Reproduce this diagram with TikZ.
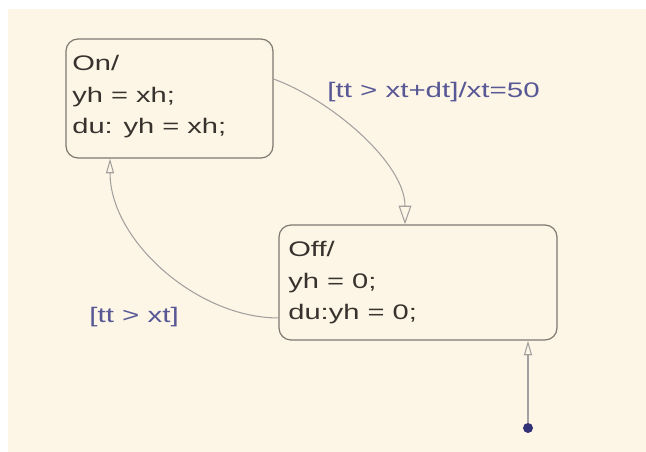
\documentclass[tikz,border=0pt]{standalone}
\usepackage{fontspec}
\setmainfont{Liberation Sans}
\usetikzlibrary{arrows.meta}
\definecolor{sfcream}{RGB}{253,246,230}
\definecolor{sfedge}{RGB}{125,120,112}
\definecolor{sfwire}{RGB}{165,160,160}
\definecolor{sfguard}{RGB}{88,88,150}
\definecolor{sfdot}{RGB}{50,50,120}
\definecolor{sfink}{RGB}{55,50,45}

\begin{document}
\begin{tikzpicture}[x=0.75pt, y=0.75pt,
  st/.style={draw=sfedge, line width=0.9pt, rounded corners=9pt, fill=sfcream, inner sep=0pt},
  stxt/.style={font=\fontsize{15.8}{23.8}\selectfont, text=sfink, align=left,
               anchor=north west, inner sep=0pt, xscale=1.38},
  guard/.style={font=\fontsize{15.8}{18}\selectfont, text=sfguard, anchor=base west,
                inner sep=0pt, xscale=1.4},
  tr/.style={draw=sfwire, line width=0.8pt, -{Triangle[open, length=11pt, width=6pt]}},
  trbig/.style={tr, -{Triangle[open, length=14pt, width=9.5pt]}}]
\fill[white] (0,0) rectangle (646,452);
\fill[sfcream] (8,0) rectangle (646,443);
% states
\node[st, minimum width=155.25pt, minimum height=89.25pt] (on)  at (169.5,353.5) {};
\node[st, minimum width=208.5pt,  minimum height=86.25pt] (off) at (418,169.5)   {};
\node[stxt] (ontext)  at (72,397)  {On/\\yh = xh;\\du: yh = xh;};
\node[stxt] (offtext) at (288,211) {Off/\\yh = 0;\\du:yh = 0;};
% default transition
\node[circle, fill=sfdot, inner sep=0pt, minimum size=7.5pt] (init) at (528,24) {};
\draw[tr] (init) -- (init |- off.south);
% transitions
\draw[trbig] ([yshift=14.6pt]on.east) to[out=-20, in=90, looseness=0.8] ([xshift=-9.75pt]off.north);
\draw[tr] ([yshift=-26.6pt]off.west) to[out=180, in=-90, looseness=0.9] ([xshift=-44.6pt]on.south);
\node[guard] (g1) at (327,354) {[tt > xt+dt]/xt=50};
\node[guard] (g2) at (89,129)  {[tt > xt]};
\end{tikzpicture}
\end{document}
